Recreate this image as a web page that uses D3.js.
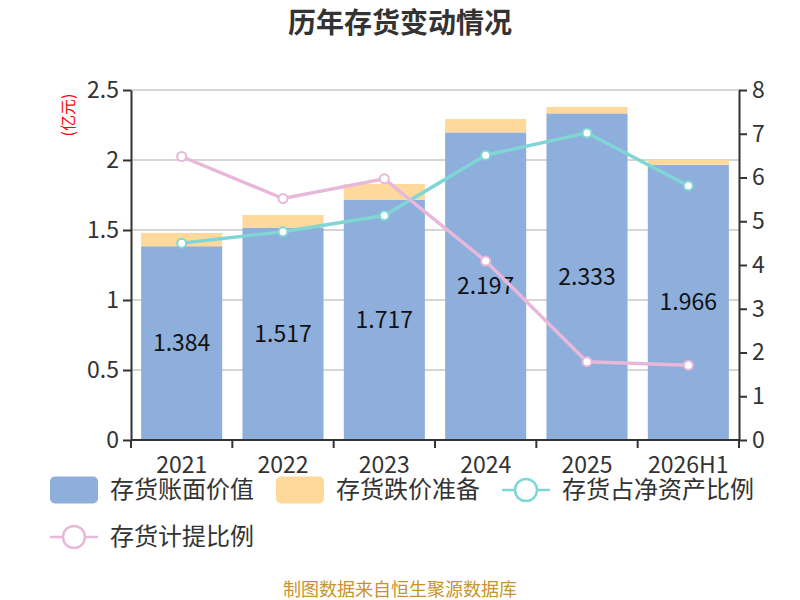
<!DOCTYPE html>
<html>
<head>
<meta charset="utf-8">
<script src="https://cdn.jsdelivr.net/npm/d3@7"></script>
<style>
  body { margin: 0; background: #fff; }
  svg text { font-family: "Noto Sans CJK SC", "Open Sans", sans-serif; }
</style>
</head>
<body>
<svg id="drawing_region"></svg>
<script>
// data
const years = ['2021', '2022', '2023', '2024', '2025', '2026H1'];
const bookValue = [1.384, 1.517, 1.717, 2.197, 2.333, 1.966];
const provision = [0.095, 0.09, 0.112, 0.096, 0.046, 0.034];
const netAssetRatio = [4.50, 4.76, 5.13, 6.51, 7.02, 5.81];
const provisionRatio = [6.48, 5.52, 5.97, 4.09, 1.79, 1.71];
const leftTicks = [0, 0.5, 1, 1.5, 2, 2.5];
const rightTicks = [0, 1, 2, 3, 4, 5, 6, 7, 8];

const config = {
    width: 800,
    height: 600,
    margin: {top: 90, right: 61, bottom: 160, left: 131}
};
const colors = {book: '#8eaedb', prov: '#fed99b', net: '#80d5d5', ratio: '#e8b8da'};

const svg = d3.select('#drawing_region')
    .attr('width', config.width)
    .attr('height', config.height);

const inner_width = config.width - config.margin.left - config.margin.right;
const inner_height = config.height - config.margin.top - config.margin.bottom;

const chart = svg.append('g')
    .attr('transform', `translate(${config.margin.left}, ${config.margin.top})`);

const xscale = d3.scaleBand().domain(years).range([0, inner_width]).paddingInner(0.2).paddingOuter(0.1);
const xcenter = d => xscale(d) + xscale.bandwidth() / 2;
const yscale = d3.scaleLinear().domain([0, 2.5]).range([inner_height, 0]);
const y2scale = d3.scaleLinear().domain([0, 8]).range([inner_height, 0]);

// title
svg.append('text')
    .attr('x', 400).attr('y', 33)
    .attr('text-anchor', 'middle')
    .attr('font-size', '28px').attr('font-weight', 'bold')
    .attr('fill', '#333')
    .text('历年存货变动情况');

// grid
chart.append('g').selectAll('line')
    .data(leftTicks)
    .enter().append('line')
    .attr('x1', 0).attr('x2', inner_width)
    .attr('y1', d => yscale(d)).attr('y2', d => yscale(d))
    .attr('stroke', '#c8c8c8').attr('stroke-width', 1.5);

// stacked bars
chart.append('g').selectAll('rect')
    .data(years)
    .enter().append('rect')
    .attr('x', d => xscale(d))
    .attr('width', xscale.bandwidth())
    .attr('y', (d, i) => yscale(bookValue[i]))
    .attr('height', (d, i) => inner_height - yscale(bookValue[i]))
    .attr('fill', colors.book);

chart.append('g').selectAll('rect')
    .data(years)
    .enter().append('rect')
    .attr('x', d => xscale(d))
    .attr('width', xscale.bandwidth())
    .attr('y', (d, i) => yscale(bookValue[i] + provision[i]))
    .attr('height', (d, i) => yscale(bookValue[i]) - yscale(bookValue[i] + provision[i]))
    .attr('fill', colors.prov);

// bar value labels
chart.append('g').selectAll('text')
    .data(years)
    .enter().append('text')
    .attr('x', d => xcenter(d))
    .attr('y', (d, i) => yscale(bookValue[i] / 2))
    .attr('dy', '0.35em')
    .attr('text-anchor', 'middle')
    .attr('font-size', '23px')
    .attr('font-family', '"Open Sans", sans-serif')
    .attr('fill', '#111')
    .text((d, i) => bookValue[i].toFixed(3));

// lines
function drawLine(values, color) {
    const line = d3.line()
        .x((d, i) => xcenter(years[i]))
        .y(d => y2scale(d));
    chart.append('path')
        .datum(values)
        .attr('d', line)
        .attr('fill', 'none')
        .attr('stroke', color)
        .attr('stroke-width', 3.5);
    chart.append('g').selectAll('circle')
        .data(values)
        .enter().append('circle')
        .attr('cx', (d, i) => xcenter(years[i]))
        .attr('cy', d => y2scale(d))
        .attr('r', 4.5)
        .attr('fill', '#fff')
        .attr('stroke', color)
        .attr('stroke-width', 2);
}
drawLine(netAssetRatio, colors.net);
drawLine(provisionRatio, colors.ratio);

// axes
const styleAxis = g => {
    g.selectAll('path, line').attr('stroke', '#333').attr('stroke-width', 2);
    g.selectAll('text').attr('fill', '#333').attr('font-size', '23px')
        .attr('font-family', '"Open Sans", sans-serif');
};

chart.append('g')
    .call(d3.axisLeft(yscale).tickValues(leftTicks).tickSize(8).tickSizeOuter(0).tickFormat(d3.format('')))
    .call(styleAxis)
    .call(g => g.selectAll('text').attr('x', -12));

chart.append('g')
    .attr('transform', `translate(${inner_width}, 0)`)
    .call(d3.axisRight(y2scale).tickValues(rightTicks).tickSize(8).tickSizeOuter(0))
    .call(styleAxis)
    .call(g => g.selectAll('text').attr('x', 13));

const xaxis_group = chart.append('g')
    .attr('transform', `translate(0, ${inner_height})`);
xaxis_group.append('line')
    .attr('x1', 0).attr('x2', inner_width)
    .attr('stroke', '#333').attr('stroke-width', 2);
const step = inner_width / years.length;
xaxis_group.selectAll('.tick')
    .data(d3.range(years.length + 1))
    .enter().append('line')
    .attr('x1', d => d * step).attr('x2', d => d * step)
    .attr('y1', 0).attr('y2', 8)
    .attr('stroke', '#333').attr('stroke-width', 2);
xaxis_group.selectAll('text')
    .data(years)
    .enter().append('text')
    .attr('x', d => xcenter(d))
    .attr('y', 33)
    .attr('text-anchor', 'middle')
    .attr('font-size', '23px')
    .attr('font-family', '"Open Sans", sans-serif')
    .attr('fill', '#333')
    .text(d => d);

// unit label
svg.append('text')
    .attr('transform', 'translate(74, 115) rotate(-90)')
    .attr('text-anchor', 'middle')
    .attr('font-size', '16px')
    .attr('fill', '#ff0000')
    .text('(亿元)');

// legend
const legend = svg.append('g');
const items = [
    {name: '存货账面价值', color: colors.book, type: 'rect', x: 50, y: 490},
    {name: '存货跌价准备', color: colors.prov, type: 'rect', x: 276, y: 490},
    {name: '存货占净资产比例', color: colors.net, type: 'line', x: 502, y: 490},
    {name: '存货计提比例', color: colors.ratio, type: 'line', x: 50, y: 537}
];
items.forEach(it => {
    const g = legend.append('g').attr('transform', `translate(${it.x}, ${it.y})`);
    if (it.type === 'rect') {
        g.append('rect')
            .attr('x', 0).attr('y', -13.5)
            .attr('width', 48).attr('height', 27)
            .attr('rx', 5)
            .attr('fill', it.color);
    } else {
        g.append('line')
            .attr('x1', 0).attr('x2', 48)
            .attr('stroke', it.color).attr('stroke-width', 2.5);
        g.append('circle')
            .attr('cx', 24).attr('r', 11)
            .attr('fill', '#fff')
            .attr('stroke', it.color).attr('stroke-width', 2.5);
    }
    g.append('text')
        .attr('x', 60).attr('y', 0)
        .attr('dy', '0.35em')
        .attr('font-size', '24px')
        .attr('fill', '#333')
        .text(it.name);
});

// source
svg.append('text')
    .attr('x', 400).attr('y', 596)
    .attr('text-anchor', 'middle')
    .attr('font-size', '18px')
    .attr('fill', '#c8922e')
    .text('制图数据来自恒生聚源数据库');
</script>
</body>
</html>
